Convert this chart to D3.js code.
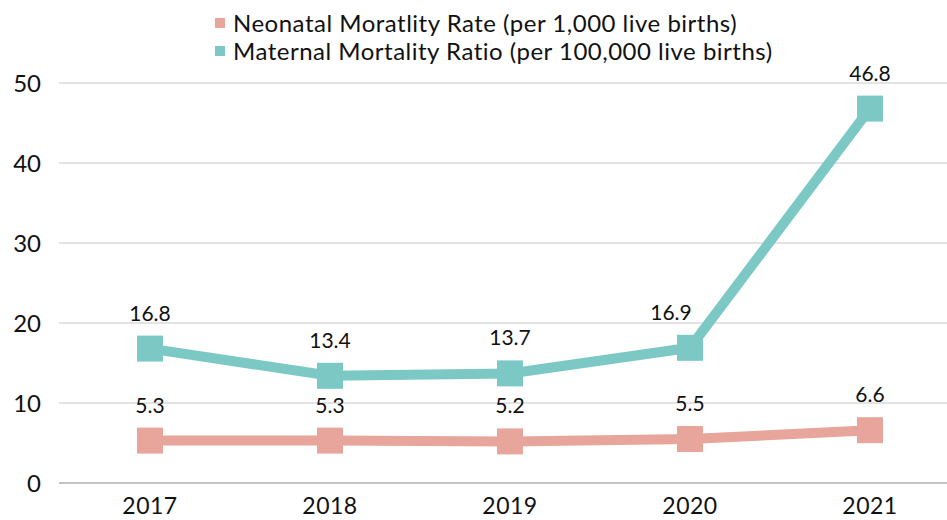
<!DOCTYPE html>
<html>
<head>
<meta charset="utf-8">
<script src="https://cdn.jsdelivr.net/npm/d3@7"></script>
<style>
  body { margin: 0; background: #fff; }
  text { font-family: Lato, "Open Sans", sans-serif; fill: #111; }
</style>
</head>
<body>
<svg id="chart" width="947" height="520"></svg>
<script>
const years = ["2017", "2018", "2019", "2020", "2021"];
const neonatal = [5.3, 5.3, 5.2, 5.5, 6.6];
const maternal = [16.8, 13.4, 13.7, 16.9, 46.8];
const seriesNames = ["Neonatal Moratlity Rate (per 1,000 live births)", "Maternal Mortality Ratio (per 100,000 live births)"];
const seriesColors = ["#E8A59B", "#7BC8C5"];
const yTicks = [0, 10, 20, 30, 40, 50];

const svg = d3.select("#chart");
const x = d3.scaleBand().domain(years).range([60, 960]);
const y = d3.scaleLinear().domain([0, 50]).range([483, 83]);

// gridlines
svg.append("g").selectAll("line").data(yTicks).join("line")
  .attr("x1", 59).attr("x2", 947)
  .attr("y1", d => y(d)).attr("y2", d => y(d))
  .attr("stroke", d => d === 0 ? "#888" : "#c8c8c8")
  .attr("stroke-width", 1.2);

// y axis labels
svg.append("g").selectAll("text").data(yTicks).join("text")
  .attr("x", 41).attr("y", d => y(d))
  .attr("dy", "0.36em")
  .attr("text-anchor", "end")
  .style("font-size", "24px")
  .text(d => d);

// x axis labels
svg.append("g").selectAll("text").data(years).join("text")
  .attr("x", d => x(d) + x.bandwidth() / 2).attr("y", 514)
  .attr("text-anchor", "middle")
  .style("font-size", "23px")
  .style("letter-spacing", "0.5px")
  .text(d => d);

const cx = d => x(d) + x.bandwidth() / 2;
const data = [neonatal, maternal];
const line = d3.line().x((d, i) => cx(years[i])).y(d => y(d));
const msize = 26;

data.forEach((vals, si) => {
  const g = svg.append("g");
  g.append("path").datum(vals)
    .attr("d", line)
    .attr("fill", "none")
    .attr("stroke", seriesColors[si])
    .attr("stroke-width", 10)
    .attr("stroke-linejoin", "miter");
  g.selectAll("rect").data(vals).join("rect")
    .attr("x", (d, i) => cx(years[i]) - msize / 2)
    .attr("y", d => y(d) - msize / 2)
    .attr("width", msize).attr("height", msize)
    .attr("fill", seriesColors[si]);
  g.selectAll("text").data(vals).join("text")
    .attr("x", (d, i) => cx(years[i]) - (si === 1 && i === 3 ? 19 : 0))
    .attr("y", d => y(d) - 28)
    .attr("text-anchor", "middle")
    .style("font-size", "21px")
    .text(d => d.toFixed(1));
});

// legend
const leg = svg.append("g");
seriesNames.forEach((n, i) => {
  const ly = 23 + i * 28;
  leg.append("rect").attr("x", 215).attr("y", ly - 5).attr("width", 10).attr("height", 10).attr("fill", seriesColors[i]);
  leg.append("text").attr("x", 233).attr("y", ly).attr("dy", "0.36em")
    .style("font-size", "24px").style("letter-spacing", "0.5px").text(n);
});
</script>
</body>
</html>
